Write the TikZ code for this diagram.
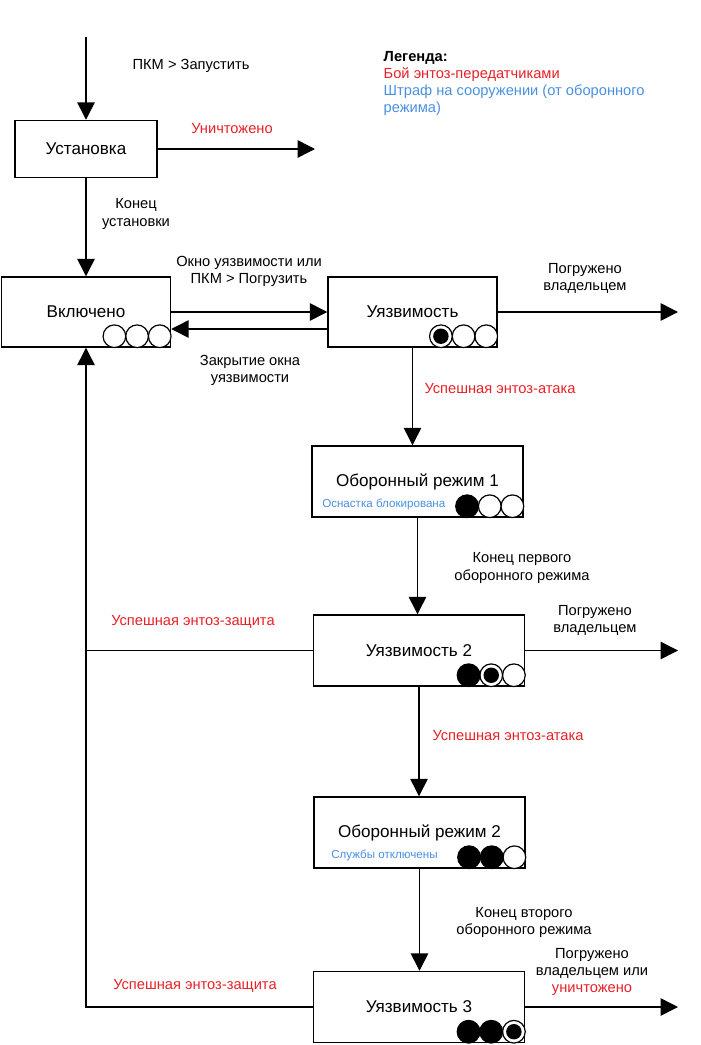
\documentclass[tikz,border=0pt]{standalone}
\usepackage{fontspec}
\setmainfont{Liberation Sans}
\usepackage{xcolor}
\usetikzlibrary{positioning, arrows.meta, calc}

\definecolor{hitred}{RGB}{232,32,40}
\definecolor{fineblue}{RGB}{74,144,226}

\begin{document}
\begin{tikzpicture}[
        x=0.75pt, y=-0.75pt,
        font=\fontsize{11}{12.8}\selectfont,
        % Estado de la estructura
        state/.style={
            draw=black,
            fill=white,
            line width=1.1pt,
            rectangle,
            minimum width=126.75pt,
            minimum height=52.5pt,
            font=\fontsize{12.8}{15}\selectfont
        },
        wide/.style={state, minimum width=158.5pt, minimum height=53.25pt},
        % Indicadores de fase
        slot/.style={circle, draw=black, line width=0.9pt, fill=white,
            minimum size=17pt, inner sep=0pt, outer sep=0pt},
        full/.style={slot, fill=black},
        hit/.style={slot, path picture={
            \fill[black] (path picture bounding box.center) circle (5.8pt);}},
        % Etiquetas y flechas
        tag/.style={align=center},
        bad/.style={text=hitred},
        penalty/.style={text=fineblue, font=\fontsize{8.7}{10}\selectfont, inner sep=0pt},
        arrow/.style={-{Triangle[length=13pt, width=13pt]}, line width=1.1pt},
        link/.style={line width=1.1pt}
    ]
        \useasboundingbox (0,0) rectangle (700,1045);

        % Estados
        \node[state, minimum width=106.5pt, minimum height=42.75pt] (setup) at (86,149) {Установка};
        \node[state] (on) at (86,312) {Включено};
        \node[state] (vuln) at (412.5,312) {Уязвимость};
        \node[wide] (def1) at (417.5,481.5) {Оборонный режим 1};
        \node[wide] (vuln2) at (419,650.5) {Уязвимость 2};
        \node[wide] (def2) at (419.5,832.5) {Оборонный режим 2};
        \node[wide] (vuln3) at (419,1007) {Уязвимость 3};

        % Штрафы (texto azul)
        \node[penalty, anchor=west] (tools) at (322,504) {Оснастка блокирована};
        \node[penalty, anchor=west] (svc) at (331,855) {Службы отключены};

        % Indicadores
        \node[slot] (on3) at ($(on.south east)+(-11.5,-11.5)$) {};
        \node[slot, left=0pt of on3] (on2) {};
        \node[slot, left=0pt of on2] (on1) {};

        \node[slot] (vuln3c) at ($(vuln.south east)+(-11.5,-11.5)$) {};
        \node[slot, left=0pt of vuln3c] (vuln2c) {};
        \node[hit, left=0pt of vuln2c] (vuln1c) {};

        \node[slot] (def13) at ($(def1.south east)+(-11.5,-11.5)$) {};
        \node[slot, left=0pt of def13] (def12) {};
        \node[full, left=0pt of def12] (def11) {};

        \node[slot] (vul23) at ($(vuln2.south east)+(-11.5,-11.5)$) {};
        \node[hit, left=0pt of vul23] (vul22) {};
        \node[full, left=0pt of vul22] (vul21) {};

        \node[slot] (def23) at ($(def2.south east)+(-11.5,-11.5)$) {};
        \node[full, left=0pt of def23] (def22) {};
        \node[full, left=0pt of def22] (def21) {};

        \node[hit] (vul33) at ($(vuln3.south east)+(-11.5,-11.5)$) {};
        \node[full, left=0pt of vul33] (vul32) {};
        \node[full, left=0pt of vul32] (vul31) {};

        % Leyenda
        \node[tag, align=left, anchor=north west] (legend) at (379,47) {
            \textbf{Легенда:}\\
            \textcolor{hitred}{Бой энтоз-передатчиками}\\
            \textcolor{fineblue}{Штраф на сооружении (от оборонного}\\
            \textcolor{fineblue}{режима)}
        };

        % Flechas
        \coordinate (in) at (86,37);
        \coordinate (lost) at (315,149);
        \coordinate (sunk1) at (678,312);
        \coordinate (sunk2) at (678,650.5);
        \coordinate (sunk3) at (678,1007);

        \draw[arrow] (in) -- (setup);
        \draw[arrow] (setup) -- (lost);
        \draw[arrow] (setup) -- (on);
        \draw[arrow] (on) -- (vuln);
        \draw[arrow] ([yshift=-12.75pt]vuln.west) -- ([yshift=-12.75pt]on.east);
        \draw[arrow] (vuln) -- (sunk1);
        \draw[arrow] (vuln.south) -- (vuln.south |- def1.north);
        \draw[arrow] (def1.south) -- (def1.south |- vuln2.north);
        \draw[arrow] (vuln2) -- (sunk2);
        \draw[arrow] (vuln2.south) -- (vuln2.south |- def2.north);
        \draw[arrow] (def2.south) -- (def2.south |- vuln3.north);
        \draw[arrow] (vuln3) -- (sunk3);

        % Retorno a Включено
        \draw[link] (vuln3.west) -| (on.south |- vuln2.west);
        \draw[arrow] (vuln2.west) -| (on.south);

        % Etiquetas de transiciones
        \node[tag] (run) at (191,66) {ПКМ > Запустить};
        \node[tag, bad] (kill) at (232,129) {Уничтожено};
        \node[tag] (done) at (136,214) {Конец\\установки};
        \node[tag] (open) at (249,271) {Окно уязвимости или\\ПКМ > Погрузить};
        \node[tag] (close) at (250,370) {Закрытие окна\\уязвимости};
        \node[tag] (own1) at (585,278) {Погружено\\владельцем};
        \node[tag, bad] (atk1) at (500,389) {Успешная энтоз-атака};
        \node[tag] (end1) at (522,568) {Конец первого\\оборонного режима};
        \node[tag, bad] (save1) at (193,622) {Успешная энтоз-защита};
        \node[tag] (own2) at (595,620) {Погружено\\владельцем};
        \node[tag, bad] (atk2) at (508,736) {Успешная энтоз-атака};
        \node[tag] (end2) at (524,922) {Конец второго\\оборонного режима};
        \node[tag, bad] (save2) at (195,986) {Успешная энтоз-защита};
        \node[tag] (own3) at (592,972) {Погружено\\владельцем или\\\textcolor{hitred}{уничтожено}};

    \end{tikzpicture}
\end{document}
